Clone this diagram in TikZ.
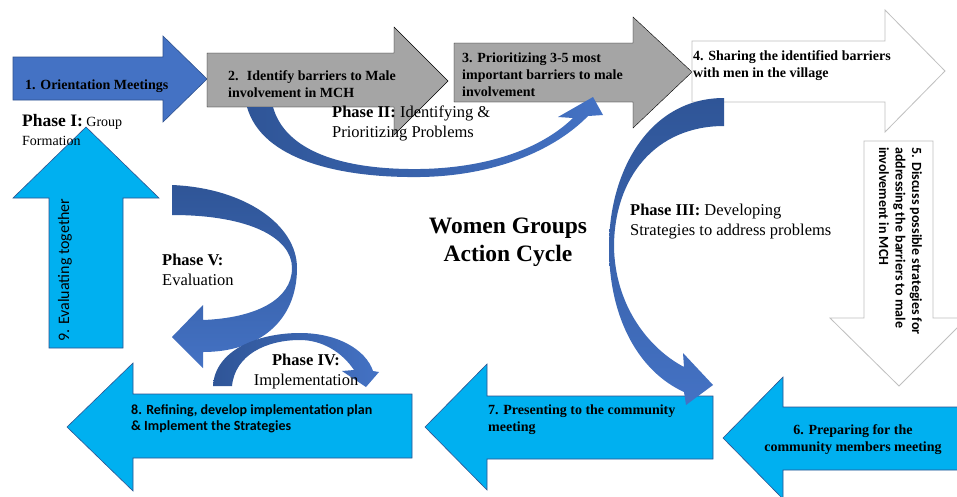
\documentclass[tikz,border=0pt]{standalone}
\usepackage{fontspec}
\setmainfont{Liberation Serif}
\newfontfamily\calibri{Carlito}
\usepackage{tikz}
\usetikzlibrary{positioning}
\definecolor{stepblue}{HTML}{4472C4}
\definecolor{edgeblue}{HTML}{2F528F}
\definecolor{deepblue}{HTML}{2F5597}
\definecolor{stepgray}{HTML}{A5A5A5}
\definecolor{linegray}{HTML}{BFBFBF}
\definecolor{skyblue}{HTML}{00B0F0}
\tikzset{
  darkarrow/.style={fill=stepblue, draw=edgeblue, line width=0.6pt},
  grayarrow/.style={fill=stepgray},
  whitearrow/.style={fill=white, draw=linegray, line width=0.8pt},
  skyarrow/.style={fill=skyblue, draw=edgeblue, line width=0.6pt},
  steptext/.style={font=\fontsize{14}{17}\selectfont\bfseries, align=left, inner sep=0pt, anchor=west},
  sanstext/.style={font=\calibri\fontsize{14}{16.5}\selectfont\bfseries, align=left, inner sep=0pt, anchor=west},
  phasetext/.style={font=\fontsize{16.5}{20}\selectfont, align=left, inner sep=0pt, anchor=west}}

\begin{document}
\begin{tikzpicture}[x=1pt,y=-1pt]
            \useasboundingbox (0,0) rectangle (957,496);
            \fill[white] (0,0) rectangle (957,496);
            % top row
            \draw[darkarrow] (13,57)--(163,57)--(163,36)--(207,79)--(163,122)--(163,100)--(13,100)--cycle;
            \draw[grayarrow] (207,53)--(394,53)--(394,27)--(448,81)--(394,135)--(394,107)--(207,107)--cycle;
            \draw[grayarrow] (454,43)--(633,43)--(633,17)--(692,72)--(633,128)--(633,102)--(454,102)--cycle;
            \draw[whitearrow] (692,41)--(885,41)--(885,10)--(945,71)--(885,132)--(885,102)--(692,102)--cycle;
            % right and bottom row
            \draw[whitearrow] (864,141)--(933,141)--(933,318)--(967,318)--(899,386)--(830,318)--(864,318)--cycle;
            \draw[skyarrow] (962,407)--(783,407)--(783,377)--(723,438)--(783,499)--(783,470)--(962,470)--cycle;
            \draw[skyarrow] (713,396)--(487,396)--(487,364)--(425,427)--(487,490)--(487,459)--(713,459)--cycle;
            \draw[skyarrow] (412,394)--(133,394)--(133,363)--(67,427)--(133,491)--(133,458)--(412,458)--cycle;
            \draw[skyarrow] (49,348)--(49,198)--(13,198)--(86,127)--(159,198)--(123,198)--(123,348)--cycle;
            % curved arrows
            \shade[left color=deepblue, right color=stepblue]
              (247,107) .. controls (262,160) and (340,178) .. (420,177)
              .. controls (495,176) and (555,150) .. (588,116)
              -- (603,115) -- (593,97) -- (558,117) -- (573,118)
              .. controls (540,150) and (485,168) .. (420,169)
              .. controls (340,170) and (285,150) .. (273,107) -- cycle;
            \shade[top color=deepblue, bottom color=stepblue]
              (724,98) .. controls (650,98) and (609,170) .. (609,247)
              .. controls (609,320) and (640,372) .. (684,392)
              -- (686,405) -- (713,385) -- (683,353) -- (684,367)
              .. controls (648,348) and (615,305) .. (614,247)
              .. controls (614,178) and (655,126) .. (724,126) -- cycle;
            \shade[top color=deepblue, bottom color=stepblue]
              (172,185) .. controls (245,188) and (297,225) .. (297,268)
              .. controls (297,322) and (258,352) .. (203,352)
              -- (203,368) -- (172,337) -- (203,305) -- (203,320)
              .. controls (255,318) and (292,300) .. (292,268)
              .. controls (292,238) and (250,215) .. (172,215) -- cycle;
            \shade[left color=deepblue, right color=stepblue]
              (213,386) .. controls (215,350) and (258,333) .. (300,333)
              .. controls (338,333) and (366,350) .. (373,371)
              -- (379,372) -- (366,387) -- (342,371) -- (354,370)
              .. controls (342,352) and (322,340) .. (300,340)
              .. controls (266,340) and (235,355) .. (232,386) -- cycle;
            % step labels
            \node (s1) at (25,86) [steptext] {1. Orientation Meetings};
            \node (s2) at (228,84) [steptext] {2.~ Identify barriers to Male\\involvement in MCH};
            \node (s3) at (462,75) [steptext] {3. Prioritizing 3-5 most\\important barriers to male\\involvement};
            \node (s4) at (693,66) [steptext] {4. Sharing the identified barriers\\with men in the village};
            \node (s5) at (900.5,147) [sanstext, rotate=-90] {5. Discuss possible strategies for\\addressing the barriers to male\\involvement in MCH};
            \node (s6) at (853,440) [steptext, align=center, anchor=center] {6. Preparing for the\\community members meeting};
            \node (s7) at (488,419.5) [steptext] {7. Presenting to the community\\meeting};
            \node (s8) at (131,419) [sanstext] {8. Refining, develop implementation plan\\\& Implement the Strategies};
            \node (s9) at (65,342) [sanstext, font=\calibri\fontsize{16}{19}\selectfont, rotate=90] {9. Evaluating together};
            % phase labels
            \node (p1) at (22,129.5) [phasetext, font=\fontsize{14}{19}\selectfont] {{\fontsize{17.5}{19}\selectfont\bfseries Phase I:} Group\\Formation};
            \node (p2) at (332,123) [phasetext] {\textbf{Phase II:} Identifying \&\\Prioritizing Problems};
            \node (p3) at (630,222) [phasetext] {\textbf{Phase III:} Developing\\Strategies to address problems};
            \node (p4) at (306,372) [phasetext, align=center, anchor=center] {\textbf{Phase IV:}\\Implementation};
            \node (p5) at (162,270) [phasetext] {\textbf{Phase V:}\\Evaluation};
            \node (title) at (508,242) [font=\fontsize{23.5}{28}\selectfont\bfseries, align=center] {Women Groups\\Action Cycle};
        \end{tikzpicture}
\end{document}
